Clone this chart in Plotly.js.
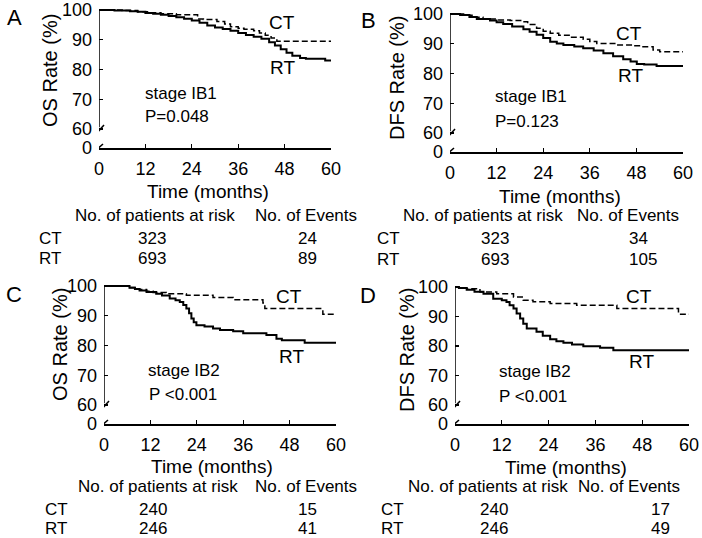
<!DOCTYPE html>
<html>
<head>
<meta charset="utf-8">
<script src="https://cdn.plot.ly/plotly-3.0.1.min.js"></script>
<style>html,body{margin:0;padding:0;background:#fff;}#chart{width:702px;height:538px;}</style>
</head>
<body>
<div id="chart"></div>
<script>
// ---------------- DATA ----------------
const monthTicks = [0, 12, 24, 36, 48, 60];
const rateTicks = [60, 70, 80, 90, 100];
const rateTickText = ['60', '70', '80', '90', '100'];

// Panel A: OS, stage IB1
const aCtTime = [0, 6, 10, 13, 16, 20, 25.5, 27, 30.5, 32.5, 34, 36, 37.5, 40, 41.5, 43, 44.5, 46, 60];
const aCtRate = [100, 99.8, 99.4, 99.1, 98.7, 98.4, 97.0, 96.8, 96.1, 95.3, 94.4, 93.9, 93.5, 93.0, 92.3, 91.5, 90.6, 89.5, 89.5];
const aRtTime = [0, 4, 8, 10, 12, 14, 16, 18, 20, 22, 24, 26, 28, 30, 32, 34, 36, 38, 40, 42, 44, 45.5, 47, 48.5, 50, 52, 53.5, 58.5, 60];
const aRtRate = [100, 99.8, 99.6, 99.4, 99.0, 98.7, 98.4, 98.0, 97.6, 97.1, 96.5, 95.7, 94.8, 94.1, 93.6, 93.0, 92.3, 91.6, 91.0, 90.3, 89.2, 88.1, 86.8, 85.6, 84.6, 83.9, 83.6, 83.0, 83.0];

// Panel B: DFS, stage IB1
const bCtTime = [0, 3.5, 6, 8.5, 12, 15.5, 18.8, 20, 22.3, 24, 25.8, 28, 30.9, 34.3, 36, 37.8, 42.9, 47, 49.7, 52.3, 54, 60];
const bCtRate = [100, 99.6, 98.9, 98.3, 98.0, 97.8, 97.4, 96.5, 95.2, 94.2, 93.5, 92.9, 92.2, 91.5, 90.8, 90.1, 89.6, 89.3, 89.0, 87.9, 87.3, 87.3];
const bRtTime = [0, 2.6, 5, 6.9, 10.3, 12, 13.7, 16, 18.9, 20.5, 22.3, 24, 25.8, 27.5, 29.2, 32, 34.3, 37, 39.5, 42, 44.6, 46.5, 48.1, 50, 53.2, 60];
const bRtRate = [100, 99.7, 99.0, 98.3, 97.8, 97.2, 96.6, 95.8, 94.9, 94.0, 93.0, 91.9, 90.7, 90.1, 89.6, 89.1, 88.5, 87.7, 86.8, 85.8, 84.8, 84.0, 83.2, 83.0, 82.5, 82.5];

// Panel C: OS, stage IB2
const cCtTime = [0, 6.6, 8, 9.2, 11, 12.7, 16.1, 21.3, 28.2, 33.4, 41.1, 41.6, 56.6, 60];
const cCtRate = [100, 99.5, 99.0, 98.8, 98.2, 97.8, 97.4, 96.9, 96.1, 95.4, 94.3, 92.4, 90.5, 90.5];
const cRtTime = [0, 6.6, 8, 9.2, 11, 13.5, 15, 17, 18.5, 19.6, 20.5, 21.3, 22, 22.6, 23.2, 23.9, 26, 28.2, 30, 33.4, 36, 42, 44.6, 46, 51.9, 60];
const cRtRate = [100, 99.4, 99.0, 98.5, 98.0, 97.4, 96.8, 95.8, 95.2, 94.6, 93.6, 92.4, 90.8, 89.1, 87.8, 86.8, 86.4, 85.7, 85.2, 84.8, 84.1, 83.5, 82.3, 81.8, 80.9, 80.9];

// Panel D: DFS, stage IB2
const dCtTime = [0, 1, 3, 6.4, 10.7, 15, 17.5, 20, 24.4, 31.2, 41.5, 57.3, 60];
const dCtRate = [100, 99.7, 99.4, 98.3, 97.7, 96.6, 95.5, 95.0, 94.4, 93.8, 92.7, 90.8, 90.8];
const dRtTime = [0, 1, 3, 5, 7.3, 9.8, 12, 13.2, 14, 15, 15.8, 16.7, 17.5, 18.4, 20.9, 22.5, 24.4, 26, 27.8, 30, 32.9, 37.2, 40.6, 60];
const dRtRate = [100, 99.7, 99.1, 98.4, 97.7, 96.0, 95.5, 94.9, 93.8, 92.7, 91.0, 89.3, 87.5, 85.9, 84.8, 83.5, 82.3, 81.6, 81.1, 80.5, 79.9, 79.4, 78.6, 78.6];

const panelLetters = ['A', 'B', 'C', 'D'];
const yTitles = ['OS Rate (%)', 'DFS Rate (%)', 'OS Rate (%)', 'DFS Rate (%)'];
const xTitle = 'Time (months)';
const stageLabels = ['stage IB1', 'stage IB1', 'stage IB2', 'stage IB2'];
const pLabels = ['P=0.048', 'P=0.123', 'P <0.001', 'P <0.001'];
const groupNames = ['CT', 'RT'];
const headerRisk = 'No. of patients at risk';
const headerEvents = 'No. of Events';
const ctAtRisk = [323, 323, 240, 240];
const rtAtRisk = [693, 693, 246, 246];
const ctEvents = [24, 34, 15, 17];
const rtEvents = [89, 105, 41, 49];

// ---------------- LAYOUT GEOMETRY (pixels in the 702x538 page) ----------------
const W = 702, H = 538;
const FONT = 'Arial, "Liberation Sans", Helvetica, sans-serif';
const geo = [
  {px0: 99,  px60: 331, py100: 10,  py60: 129, py0: 148, letter: [14, 17], ytitle: [50, 71], xtitle: [208, 191],
   ct: [282, 23], rt: [282, 67], stage: [144, 93], p: [144, 117],
   hdrRisk: [74, 215], hdrEv: [254, 215], rowY: [238, 258], nameX: 50, riskX: 152, evX: 307, evAnchor: 'center'},
  {px0: 450, px60: 683, py100: 14,  py60: 133, py0: 152, letter: [368, 20], ytitle: [397, 78], xtitle: [560, 196],
   ct: [629, 33], rt: [630, 75], stage: [494, 97], p: [494, 121],
   hdrRisk: [402, 215], hdrEv: [576, 215], rowY: [238, 259], nameX: 388, riskX: 495, evX: 628, evAnchor: 'left'},
  {px0: 104, px60: 336, py100: 286, py60: 405, py0: 424, letter: [14, 294], ytitle: [60, 345], xtitle: [212, 466],
   ct: [289, 296], rt: [291, 356], stage: [147, 370], p: [148, 394],
   hdrRisk: [77, 486], hdrEv: [254, 486], rowY: [509, 528], nameX: 56, riskX: 153, evX: 307, evAnchor: 'center'},
  {px0: 455, px60: 689, py100: 287, py60: 405, py0: 424, letter: [368, 295], ytitle: [407, 350], xtitle: [566, 467],
   ct: [639, 297], rt: [641, 362], stage: [498, 371], p: [498, 396],
   hdrRisk: [407, 486], hdrEv: [577, 486], rowY: [509, 528], nameX: 392, riskX: 494, evX: 660, evAnchor: 'center'}
];

const series = [
  [aCtTime, aCtRate, aRtTime, aRtRate],
  [bCtTime, bCtRate, bRtTime, bRtRate],
  [cCtTime, cCtRate, cRtTime, cRtRate],
  [dCtTime, dCtRate, dRtTime, dRtRate]
];

const fx = v => v / W;
const fy = v => 1 - v / H;

const traces = [];
const layout = {
  width: W, height: H,
  margin: {l: 0, r: 0, t: 0, b: 0, pad: 0},
  paper_bgcolor: '#ffffff', plot_bgcolor: '#ffffff',
  showlegend: false,
  font: {family: FONT, color: '#000', size: 17},
  annotations: [], shapes: []
};

function ann(text, x, y, size, opts) {
  layout.annotations.push(Object.assign({
    text: text, x: fx(x), y: fy(y), xref: 'paper', yref: 'paper',
    xanchor: 'center', yanchor: 'middle', showarrow: false, borderpad: 0,
    font: {family: FONT, size: size, color: '#000'}
  }, opts || {}));
}

geo.forEach((g, i) => {
  const n = i + 1;
  const xa = n === 1 ? 'x' : 'x' + n;
  const ya = n === 1 ? 'y' : 'y' + n;
  const ppu = (g.py60 - g.py100) / 40;           // pixels per rate unit
  const zeroVal = 60 - (g.py0 - g.py60) / ppu;   // where the broken "0" sits
  const topVal = 101;
  const topPx = g.py100 - (topVal - 100) * ppu;

  layout['xaxis' + (n === 1 ? '' : n)] = {
    domain: [fx(g.px0), fx(g.px60)], anchor: ya, range: [0, 60],
    tickvals: monthTicks, ticktext: monthTicks.map(String),
    ticks: 'inside', ticklen: 4, tickwidth: 1.3, tickcolor: '#000',
    showline: true, linewidth: 1.5, linecolor: '#000',
    showgrid: false, zeroline: false, ticklabelstandoff: 4,
    tickfont: {family: FONT, size: 18, color: '#000'}, fixedrange: true
  };
  layout['yaxis' + (n === 1 ? '' : n)] = {
    domain: [fy(g.py0), fy(topPx)], anchor: xa, range: [zeroVal, topVal],
    tickvals: [zeroVal].concat(rateTicks), ticktext: ['0'].concat(rateTickText),
    ticks: 'inside', ticklen: 4, tickwidth: 1.3, tickcolor: '#000',
    showline: false, showgrid: false, zeroline: false, ticklabelstandoff: 6,
    tickfont: {family: FONT, size: 18, color: '#000'}, fixedrange: true
  };

  const s = series[i];
  traces.push({x: s[0], y: s[1], xaxis: xa, yaxis: ya, type: 'scatter', mode: 'lines',
    line: {shape: 'hv', color: '#000', width: 1.5, dash: '6px,3px'}, name: 'CT', hoverinfo: 'skip'});
  traces.push({x: s[2], y: s[3], xaxis: xa, yaxis: ya, type: 'scatter', mode: 'lines',
    line: {shape: 'hv', color: '#000', width: 2}, name: 'RT', hoverinfo: 'skip'});

  // broken y-axis: line from 100 down to just above 60, plus break slashes
  layout.shapes.push({type: 'line', xref: xa, yref: ya, x0: 0, x1: 0, y0: 60.6, y1: 100,
    line: {color: '#000', width: 1.5}, layer: 'above'});
  layout.shapes.push({type: 'line', xref: xa, yref: ya, xsizemode: 'pixel', ysizemode: 'pixel',
    xanchor: 0, yanchor: 60, x0: -2, x1: 5, y0: -4, y1: 4,
    line: {color: '#000', width: 1.5}, layer: 'above'});
  layout.shapes.push({type: 'line', xref: xa, yref: ya, xsizemode: 'pixel', ysizemode: 'pixel',
    xanchor: 0, yanchor: zeroVal, x0: -4, x1: 4, y0: -3, y1: 4,
    line: {color: '#000', width: 1.5}, layer: 'above'});

  // texts
  ann(panelLetters[i], g.letter[0], g.letter[1], 22);
  ann(yTitles[i], g.ytitle[0], g.ytitle[1], 20, {textangle: -90});
  ann(xTitle, g.xtitle[0], g.xtitle[1], 19);
  ann(groupNames[0], g.ct[0], g.ct[1], 19);
  ann(groupNames[1], g.rt[0], g.rt[1], 19);
  ann(stageLabels[i], g.stage[0], g.stage[1], 17, {xanchor: 'left'});
  ann(pLabels[i], g.p[0], g.p[1], 17, {xanchor: 'left'});

  // at-risk table
  ann(headerRisk, g.hdrRisk[0], g.hdrRisk[1], 17, {xanchor: 'left'});
  ann(headerEvents, g.hdrEv[0], g.hdrEv[1], 17, {xanchor: 'left'});
  ann(groupNames[0], g.nameX, g.rowY[0], 17);
  ann(groupNames[1], g.nameX, g.rowY[1], 17);
  ann(String(ctAtRisk[i]), g.riskX, g.rowY[0], 17);
  ann(String(rtAtRisk[i]), g.riskX, g.rowY[1], 17);
  ann(String(ctEvents[i]), g.evX, g.rowY[0], 17, {xanchor: g.evAnchor});
  ann(String(rtEvents[i]), g.evX, g.rowY[1], 17, {xanchor: g.evAnchor});
});

Plotly.newPlot('chart', traces, layout, {staticPlot: true, displayModeBar: false});
</script>
</body>
</html>
